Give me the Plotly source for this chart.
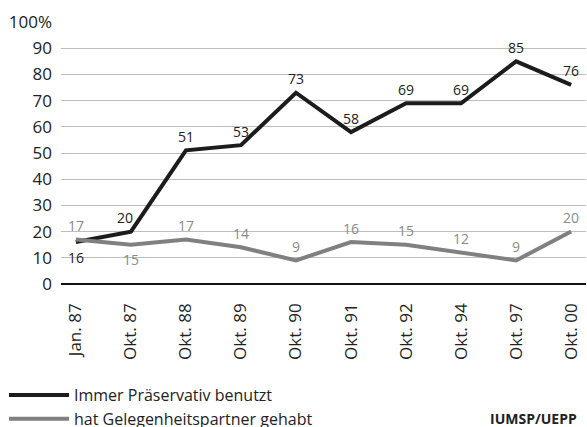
import plotly.graph_objects as go

categories = ["Jan. 87", "Okt. 87", "Okt. 88", "Okt. 89", "Okt. 90", "Okt. 91", "Okt. 92", "Okt. 94", "Okt. 97", "Okt. 00"]
immer = [16, 20, 51, 53, 73, 58, 69, 69, 85, 76]
gelegenheit = [17, 15, 17, 14, 9, 16, 15, 12, 9, 20]
y_ticks = [0, 10, 20, 30, 40, 50, 60, 70, 80, 90, 100]
y_ticktext = ["0", "10", "20", "30", "40", "50", "60", "70", "80", "90", "100%"]

# label placement: "above" / "below" / "aboveleft"
immer_pos = ["below", "aboveleft"] + ["above"] * 8
gel_pos = ["above", "below"] + ["above"] * 8

FONT = "Open Sans"
BLACK = "#1c1c1c"
GREY = "#808080"

fig = go.Figure()
fig.add_trace(go.Scatter(
    x=categories, y=immer, mode="lines", name="Immer Präservativ benutzt",
    legendgroup="a", line=dict(color=BLACK, width=4), hoverinfo="skip",
))
fig.add_trace(go.Scatter(
    x=categories, y=gelegenheit, mode="lines", name="hat Gelegenheitspartner gehabt",
    legendgroup="b", line=dict(color=GREY, width=4), hoverinfo="skip",
))

shift = {"above": (0, 14), "below": (0, -15), "aboveleft": (-6, 14)}
annotations = []
for vals, poss, col in ((immer, immer_pos, "#222222"), (gelegenheit, gel_pos, "#8a8a8a")):
    for c, v, p in zip(categories, vals, poss):
        dx, dy = shift[p]
        annotations.append(dict(x=c, y=v, xref="x", yref="y", text=str(v), showarrow=False,
                                xanchor="center", yanchor="middle", xshift=dx, yshift=dy,
                                font=dict(size=14, family=FONT, color=col)))
annotations.append(dict(text="<b>IUMSP/UEPP</b>", x=0.9867, y=-0.515, xref="paper", yref="paper",
                        xanchor="right", yanchor="middle", showarrow=False,
                        font=dict(size=14, family=FONT, color="#222222")))

fig.update_layout(
    width=587, height=427,
    margin=dict(l=61, r=1, t=22, b=143),
    paper_bgcolor="white", plot_bgcolor="white",
    font=dict(family=FONT, color="#222222", size=14),
    showlegend=True,
    legend=dict(x=-0.1086, y=0.1147, xref="paper", yref="container",
                xanchor="left", yanchor="top",
                font=dict(size=16, family=FONT, color="#222222"),
                bgcolor="rgba(0,0,0,0)", tracegroupgap=0, itemwidth=60),
    xaxis=dict(type="category", range=[-0.27, 9.27], showgrid=False, tickangle=-90,
               tickfont=dict(size=17), ticks="", ticklabelstandoff=15,
               showline=False, zeroline=False, automargin=False),
    yaxis=dict(range=[0, 100], tickvals=y_ticks, ticktext=y_ticktext,
               showgrid=True, gridcolor="#bdbdbd", gridwidth=1,
               tickfont=dict(size=17), ticks="", ticklabelstandoff=8,
               zeroline=True, zerolinecolor="#111111", zerolinewidth=2,
               showline=False, automargin=False),
    annotations=annotations,
)

fig.write_html("out.html", config={"displayModeBar": False},
               post_script="document.body.style.margin='0';"
                           "document.documentElement.style.overflow='hidden';")
